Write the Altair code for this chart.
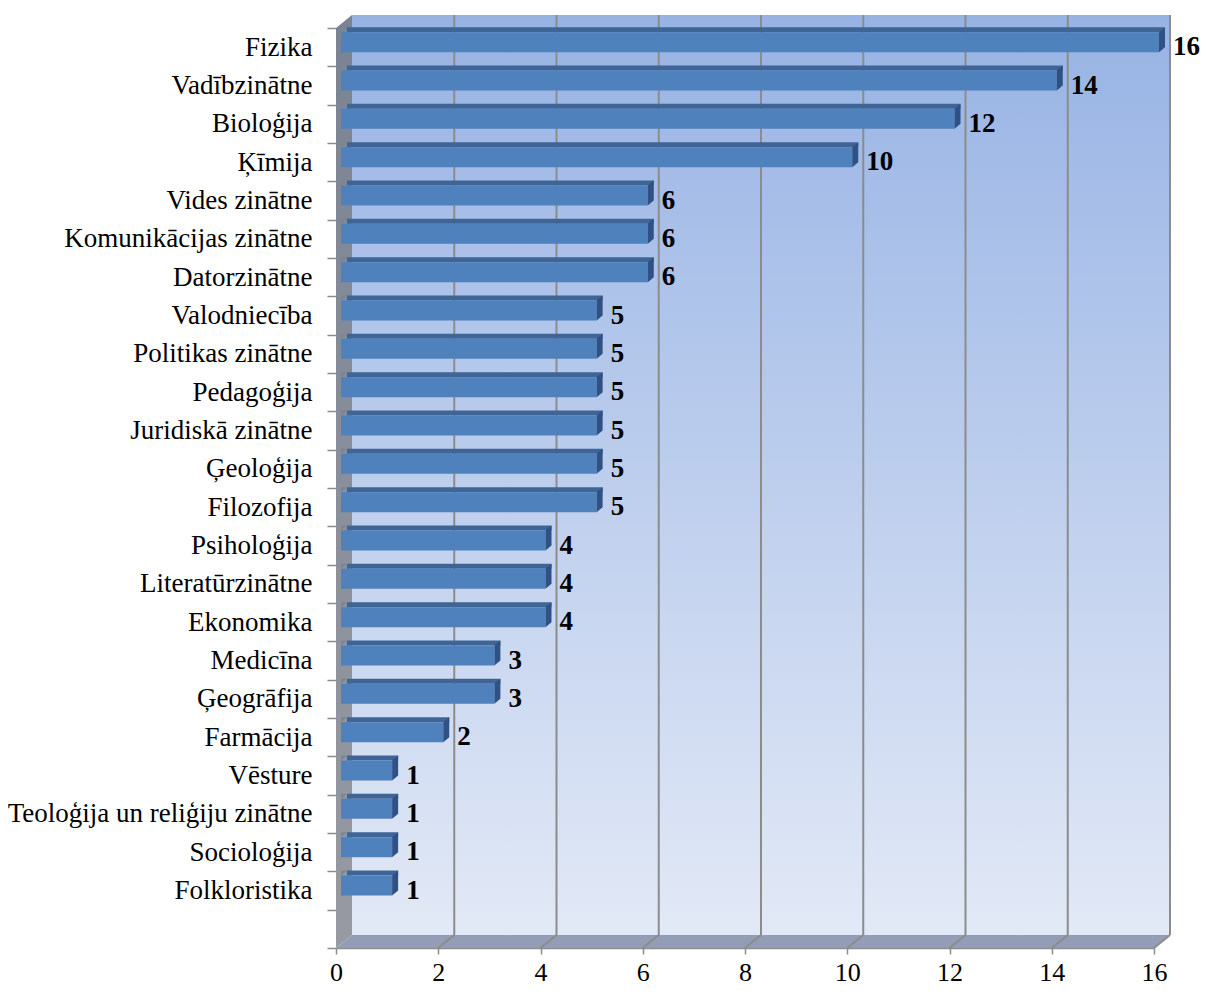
import altair as alt
import pandas as pd

categories = ["Fizika", "Vadībzinātne", "Bioloģija", "Ķīmija", "Vides zinātne",
              "Komunikācijas zinātne", "Datorzinātne", "Valodniecība", "Politikas zinātne",
              "Pedagoģija", "Juridiskā zinātne", "Ģeoloģija", "Filozofija", "Psiholoģija",
              "Literatūrzinātne", "Ekonomika", "Medicīna", "Ģeogrāfija", "Farmācija",
              "Vēsture", "Teoloģija un reliģiju zinātne", "Socioloģija", "Folkloristika"]
values = [16, 14, 12, 10, 6, 6, 6, 5, 5, 5, 5, 5, 5, 4, 4, 4, 3, 3, 2, 1, 1, 1, 1]
x_ticks = [0, 2, 4, 6, 8, 10, 12, 14, 16]

W, H = 818, 920
DX, DY = 16, -13
FONT = "Liberation Serif"

df = pd.DataFrame({"cat": categories, "value": values})
grid_df = pd.DataFrame({"tick": x_ticks[1:]})

xscale = alt.Scale(domain=[0, 16], nice=False, zero=True)
xaxis = alt.Axis(values=x_ticks, tickSize=6, labelFontSize=26, labelFont=FONT,
                 labelColor="black", domainColor="#8c8c8c", tickColor="#8c8c8c",
                 domainWidth=1.5, tickWidth=1.5, labelPadding=5, grid=False,
                 labelFlush=False, labelOverlap=False)
yscale = alt.Scale(domain=categories + [" "], paddingInner=0, paddingOuter=0)
yaxis = alt.Axis(tickBand="extent", tickSize=9, domain=False, labelPadding=15,
                 labelFontSize=27, labelFont=FONT, labelColor="black",
                 tickColor="#8c8c8c", tickWidth=1.5, grid=False, labelLimit=500)


def xf(field):
    return alt.X(field, type="quantitative", scale=xscale, axis=xaxis, title=None)


def xd(v):
    return alt.XDatum(v, type="quantitative", scale=xscale, axis=xaxis)


def yf():
    return alt.Y("cat:N", sort=None, scale=yscale, axis=yaxis, title=None)


wall_grad = alt.Gradient(gradient="linear",
                         stops=[alt.GradientStop(color="#97b3e4", offset=0),
                                alt.GradientStop(color="#e2e9f6", offset=1)],
                         x1=0, x2=0, y1=0, y2=1)
side_grad = alt.Gradient(gradient="linear",
                         stops=[alt.GradientStop(color="#7a8393", offset=0),
                                alt.GradientStop(color="#979aa2", offset=1)],
                         x1=0, x2=0, y1=0, y2=1)

base = alt.Chart(df)
gbase = alt.Chart(grid_df)

back_wall = alt.Chart(pd.DataFrame({"a": [0]})).mark_rect(
    fill=wall_grad, xOffset=DX, x2Offset=DX, yOffset=DY, y2Offset=DY
).encode(x=xd(0), x2=alt.X2Datum(16), y=alt.value(0), y2=alt.value(H))

back_grid = gbase.mark_rule(color="#8c8c8c", strokeWidth=2, xOffset=DX, yOffset=DY,
                            y2Offset=DY).encode(
    x=xf("tick"), y=alt.value(0), y2=alt.value(H))

floor_path = f"M0,0 L{W},0 L{W + DX},{DY} L{DX},{DY} Z"
floor = alt.Chart(pd.DataFrame({"a": [0]})).mark_point(
    shape=floor_path, size=4, filled=True, fill="#939db5", opacity=1, strokeWidth=0
).encode(x=xd(0), y=alt.value(H))

floor_grid = gbase.mark_point(
    shape=f"M0,0 L{DX},{DY}", size=4, filled=False, stroke="#8c8c8c",
    strokeWidth=2, opacity=1
).encode(x=xf("tick"), y=alt.value(H))

left_path = f"M0,0 L{DX},{DY} L{DX},{H + DY} L0,{H} Z"
left_wall = alt.Chart(pd.DataFrame({"a": [0]})).mark_point(
    shape=left_path, size=4, filled=True, fill=side_grad, opacity=1, strokeWidth=0
).encode(x=xd(0), y=alt.value(0))

top_face = base.mark_bar(size=5, color="#3f6496", xOffset=11, x2Offset=5,
                         yOffset=-17.5, y2Offset=-17.5).encode(x=xf("value"), y=yf())

front_face = base.mark_bar(size=20, color="#4f81bd", xOffset=5, x2Offset=5,
                           yOffset=-5, y2Offset=-5).encode(x=xf("value"), y=yf())

cover = base.mark_point(shape="M0,-10 L6,-15 L0,-15 Z", size=4, filled=True,
                        color="#7c8595", opacity=1, strokeWidth=0,
                        xOffset=5, yOffset=-5).encode(x=xd(0), y=yf())

right_face = base.mark_point(shape="M0,-10 L6,-15 L6,5 L0,10 Z", size=4, filled=True,
                             color="#2f5183", opacity=1, strokeWidth=0,
                             xOffset=5, yOffset=-5).encode(x=xf("value"), y=yf())

labels = base.mark_text(align="left", baseline="middle", dx=19, font=FONT,
                        fontSize=27, fontWeight="bold", color="black").encode(
    x=xf("value"), y=yf(), text="value:Q")

chart = alt.layer(back_wall, back_grid, floor, floor_grid, left_wall, top_face,
                  front_face, cover, right_face, labels).properties(
    width=W, height=H,
    autosize=alt.AutoSizeParams(type="none"),
    padding={"left": 328, "top": 20, "right": 47, "bottom": 39},
    background="white"
).configure_view(strokeWidth=0)

chart.save("out.html", embed_options={"renderer": "svg", "actions": False})
